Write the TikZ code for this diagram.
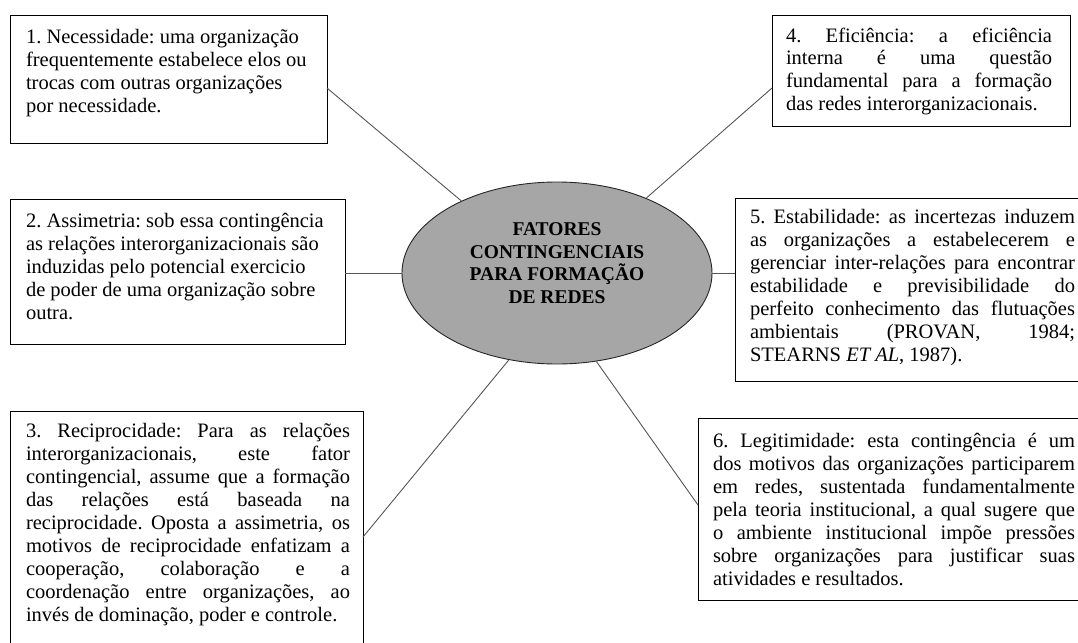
\documentclass[tikz,border=0pt]{standalone}
\usepackage{fontspec}
\setmainfont{Liberation Serif}
\usetikzlibrary{shapes.geometric}
\definecolor{ellfill}{RGB}{166,166,166}
\definecolor{linkgray}{RGB}{85,85,85}
\frenchspacing
\newcommand\jl[1]{\makebox[\linewidth][s]{#1}\\}
\newcommand\txtblock[2]{\parbox[t]{#1}{\fontsize{20.5}{23}\selectfont #2}}
\tikzset{
  framebox/.style={draw=black, line width=1pt, anchor=north west, inner sep=0pt, outer sep=0pt},
  bodytext/.style={anchor=base west, inner sep=0pt, outer sep=0pt},
  link/.style={draw=linkgray, line width=0.9pt}
}
\begin{document}
\begin{tikzpicture}[x=1pt,y=-1pt]
\useasboundingbox (0,0) rectangle (1078,642);
\clip (0,0) rectangle (1078,642);
% boxes
\node[framebox, minimum width=317pt, minimum height=127pt] (b1) at (10,16) {};
\node[framebox, minimum width=298pt, minimum height=110pt] (b4) at (772,16) {};
\node[framebox, minimum width=335pt, minimum height=145pt] (b2) at (10,199) {};
\node[framebox, minimum width=355pt, minimum height=183pt] (b5) at (735,198) {};
\node[framebox, minimum width=353pt, minimum height=250pt] (b3) at (10,411) {};
\node[framebox, minimum width=392pt, minimum height=182pt] (b6) at (698,418) {};
% ellipse
\node[ellipse, draw=black!85, line width=0.9pt, fill=ellfill, minimum width=310pt, minimum height=182pt, inner sep=0pt] (ell) at (557,273) {};
\node[font=\bfseries\fontsize{19.5}{22.5}\selectfont, align=center, inner sep=0pt] (etxt) at (557,263) {FATORES\\CONTINGENCIAIS\\PARA FORMAÇÃO\\DE REDES};
% connectors
\draw[link] (b1.east |- 0,88) -- (ell.143.9);
\draw[link] (b4.west |- 0,88) -- (ell.40.7);
\draw[link] (b2.east |- ell.west) -- (ell.west);
\draw[link] (ell.east) -- (ell.east -| b5.west);
\draw[link] (ell.241.9) -- (b3.east |- 0,537);
\draw[link] (ell.294) -- (b6.west |- 0,505);
% texts
\node[bodytext] (t1) at (26,44) {\txtblock{300pt}{%
1. Necessidade: uma organização\\
frequentemente estabelece elos ou\\
trocas com outras organizações\\
por necessidade.}};
\node[bodytext] (t4) at (786,42) {\txtblock{266pt}{%
\jl{4. Eficiência: a eficiência}
\jl{interna é uma questão}
\jl{fundamental para a formação}
das redes interorganizacionais.}};
\node[bodytext] (t2) at (26,227) {\txtblock{318pt}{%
2. Assimetria: sob essa contingência\\
as relações interorganizacionais são\\
induzidas pelo potencial exercicio\\
de poder de uma organização sobre\\
outra.}};
\node[bodytext] (t5) at (750,223) {\txtblock{325pt}{%
\jl{5. Estabilidade: as incertezas induzem}
\jl{as organizações a estabelecerem e}
\jl{gerenciar inter-relações para encontrar}
\jl{estabilidade e previsibilidade do}
\jl{perfeito conhecimento das flutuações}
\jl{ambientais (PROVAN, 1984;}
STEARNS \emph{ET AL}, 1987).}};
\node[bodytext] (t3) at (26,437) {\txtblock{324pt}{%
\jl{3. Reciprocidade: Para as relações}
\jl{interorganizacionais, este fator}
\jl{contingencial, assume que a formação}
\jl{das relações está baseada na}
\jl{reciprocidade. Oposta a assimetria, os}
\jl{motivos de reciprocidade enfatizam a}
\jl{cooperação, colaboração e a}
\jl{coordenação entre organizações, ao}
invés de dominação, poder e controle.}};
\node[bodytext] (t6) at (713,447) {\txtblock{362pt}{%
\jl{6. Legitimidade: esta contingência é um}
\jl{dos motivos das organizações participarem}
\jl{em redes, sustentada fundamentalmente}
\jl{pela teoria institucional, a qual sugere que}
\jl{o ambiente institucional impõe pressões}
\jl{sobre organizações para justificar suas}
atividades e resultados.}};
\end{tikzpicture}
\end{document}
